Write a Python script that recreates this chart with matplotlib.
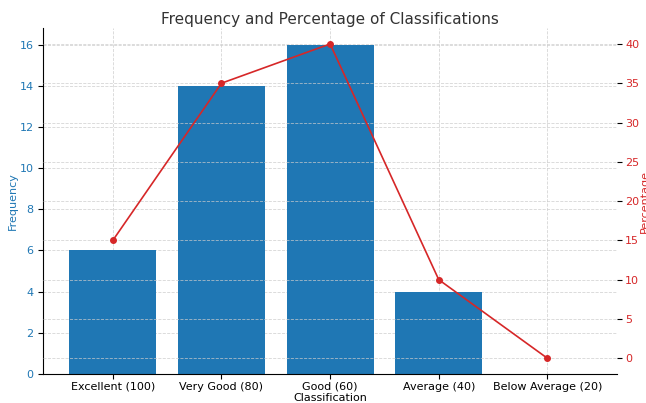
import matplotlib
matplotlib.use("Agg")
import matplotlib.pyplot as plt

categories = ["Excellent (100)", "Very Good (80)", "Good (60)", "Average (40)", "Below Average (20)"]
frequency = [6, 14, 16, 4, 0]
percentage = [15, 35, 40, 10, 0]

fig, ax1 = plt.subplots(figsize=(6.46, 4.03), dpi=100)
fig.subplots_adjust(left=0.067, right=0.955, top=0.93, bottom=0.072)

ax1.bar(categories, frequency, color="#1f77b4", width=0.8)
ax1.set_ylabel("Frequency", color="#1f77b4", fontsize=8)
ax1.yaxis.set_label_coords(-0.045, 0.5)
ax1.set_xlabel("Classification", fontsize=8, labelpad=1)
ax1.tick_params(axis="y", labelcolor="#1f77b4", labelsize=8)
ax1.tick_params(axis="x", labelsize=8, pad=2)
ax1.grid(True, linestyle="--", linewidth=0.6, color="#cccccc", alpha=0.8)
ax1.set_axisbelow(True)
ax1.set_title("Frequency and Percentage of Classifications", fontsize=11, color="#333333", pad=3)

ax2 = ax1.twinx()
ax2.plot(categories, percentage, color="#d62728", marker="o", markersize=4, linewidth=1.2)
ax2.set_ylabel("Percentage", color="#d62728", fontsize=8)
ax2.yaxis.set_label_coords(1.04, 0.5)
ax2.tick_params(axis="y", labelcolor="#d62728", labelsize=8, pad=2.5)
ax2.grid(True, axis="y", linestyle="--", linewidth=0.6, color="#cccccc", alpha=0.8)

for a in (ax1, ax2):
    a.spines["top"].set_visible(False)
    a.spines["right"].set_visible(False)
ax2.spines["left"].set_visible(False)
ax2.spines["bottom"].set_visible(False)

fig.savefig("out.png", dpi=100)
